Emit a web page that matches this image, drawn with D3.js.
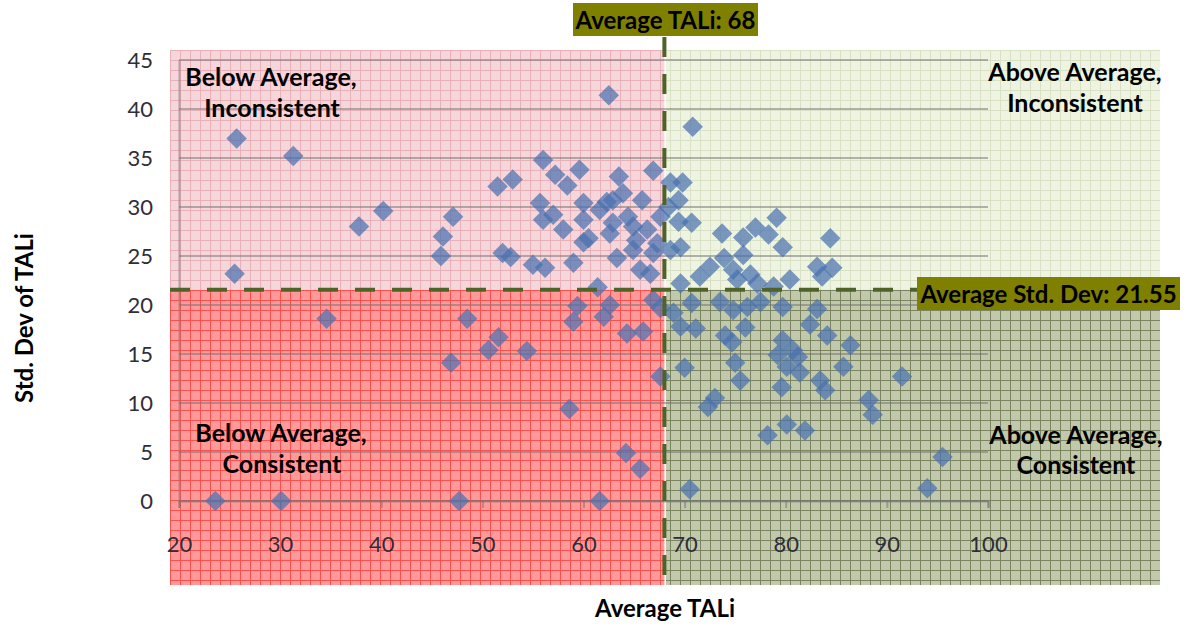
<!DOCTYPE html>
<html>
<head>
<meta charset="utf-8">
<script src="https://cdn.jsdelivr.net/npm/d3@7"></script>
<style>
  body { margin: 0; background: #fff; }
  text { font-family: Lato, "Open Sans", sans-serif; }
</style>
</head>
<body>
<svg id="chart" width="1189" height="626"></svg>
<script>
// averages used for the quadrant split
const avgTali = 68;
const avgStd = 21.55;

const xTicks = [20, 30, 40, 50, 60, 70, 80, 90, 100];
const yTicks = [0, 5, 10, 15, 20, 25, 30, 35, 40, 45];

// [Average TALi, Std. Dev of TALi]
const belowInconsistent = [
  [25.7, 37.0], [31.3, 35.2], [25.5, 23.2], [37.8, 28.0], [40.2, 29.6],
  [56.0, 34.8], [57.2, 33.3], [58.4, 32.2], [59.6, 33.8], [51.5, 32.1],
  [53.0, 32.8], [63.5, 33.1], [66.9, 33.7], [47.1, 29.0], [46.1, 27.0],
  [45.9, 25.0], [52.0, 25.3], [52.8, 24.9], [55.0, 24.1], [56.2, 23.8],
  [59.0, 24.3], [55.7, 30.4], [56.0, 28.7], [57.0, 29.2], [58.0, 27.7],
  [60.0, 30.4], [60.0, 28.7], [60.0, 26.4], [61.6, 29.7], [62.3, 30.5],
  [62.9, 30.7], [63.9, 31.4], [62.9, 28.4], [62.6, 27.3], [64.4, 29.0],
  [64.9, 28.0], [65.8, 30.7], [66.3, 27.7], [63.3, 24.8], [64.9, 25.6],
  [65.6, 23.6], [66.6, 23.2], [66.9, 25.3], [67.3, 26.3], [67.6, 29.0],
  [61.4, 21.8], [62.5, 41.4], [60.5, 26.8], [65.2, 26.6]
];
const belowConsistent = [
  [34.6, 18.6], [23.6, 0.0], [30.1, 0.0], [48.5, 18.6], [51.6, 16.7],
  [50.6, 15.4], [54.4, 15.3], [46.9, 14.1], [59.4, 19.9], [59.0, 18.3],
  [62.6, 20.0], [62.0, 18.8], [64.3, 17.1], [65.9, 17.3], [66.9, 20.5],
  [67.6, 19.7], [67.6, 12.7], [58.6, 9.4], [64.2, 4.9], [65.6, 3.3],
  [47.7, 0.0], [61.6, 0.0]
];
const aboveInconsistent = [
  [70.8, 38.2], [69.8, 32.5], [68.6, 32.5], [69.4, 30.7], [68.4, 30.0],
  [70.7, 28.4], [69.4, 28.5], [69.6, 25.9], [68.6, 25.6], [73.7, 27.3],
  [75.8, 26.9], [77.0, 27.9], [78.3, 27.2], [79.1, 28.9], [79.7, 25.9],
  [84.4, 26.8], [73.9, 24.8], [75.8, 25.1], [72.5, 23.9], [74.8, 23.6],
  [76.5, 23.1], [83.1, 23.9], [84.6, 23.8], [83.6, 22.9], [80.4, 22.6],
  [78.8, 21.9], [71.5, 22.9], [69.6, 22.2], [77.2, 22.2], [75.2, 22.6]
];
const aboveConsistent = [
  [70.7, 20.2], [68.9, 19.2], [69.6, 17.8], [71.1, 17.6], [73.5, 20.3],
  [74.8, 19.5], [76.2, 19.8], [77.5, 20.3], [76.0, 17.7], [74.0, 16.9],
  [74.7, 16.2], [79.7, 19.8], [83.1, 19.6], [82.4, 18.0], [84.1, 16.9],
  [86.4, 15.9], [79.7, 16.4], [80.7, 15.4], [79.2, 14.9], [81.2, 14.7],
  [80.1, 13.7], [81.4, 13.1], [75.0, 14.1], [75.5, 12.3], [70.0, 13.6],
  [79.6, 11.6], [83.4, 12.3], [83.9, 11.3], [85.7, 13.7], [91.5, 12.7],
  [73.0, 10.5], [72.3, 9.6], [88.2, 10.3], [88.6, 8.8], [78.2, 6.7],
  [80.1, 7.8], [81.9, 7.2], [95.5, 4.5], [94.0, 1.3], [70.5, 1.2]
];

const points = [].concat(belowInconsistent, belowConsistent, aboveInconsistent, aboveConsistent);

const svg = d3.select("#chart");

const x = d3.scaleLinear().domain([20, 100]).range([179, 988]);
const y = d3.scaleLinear().domain([0, 45]).range([501, 60]);

// quadrant background extents (beyond the plot area)
const bgLeft = 170, bgRight = 1160, bgTop = 50, bgBottom = 585;
const splitX = x(avgTali), splitY = y(avgStd);

// grid-paper fills
const defs = svg.append("defs");
function gridPattern(id, base, line) {
  const p = defs.append("pattern")
    .attr("id", id)
    .attr("patternUnits", "userSpaceOnUse")
    .attr("x", bgLeft).attr("y", bgTop)
    .attr("width", 10).attr("height", 10);
  p.append("rect").attr("width", 10).attr("height", 10).attr("fill", base);
  p.append("path").attr("d", "M0,0.5H10M0.5,0V10")
    .attr("stroke", line).attr("stroke-width", 1).attr("fill", "none");
}
gridPattern("pTL", "#f5d6db", "#eab0b8");
gridPattern("pBL", "#ff9a9a", "#ff5050");
gridPattern("pTR", "#eff3e2", "#d8e1c3");
gridPattern("pBR", "#c2c8ab", "#7a8560");

const quads = [
  { x0: bgLeft, x1: splitX, y0: bgTop, y1: splitY, fill: "url(#pTL)" },
  { x0: bgLeft, x1: splitX, y0: splitY, y1: bgBottom, fill: "url(#pBL)" },
  { x0: splitX + 1.5, x1: bgRight, y0: bgTop, y1: splitY, fill: "url(#pTR)" },
  { x0: splitX + 1.5, x1: bgRight, y0: splitY, y1: bgBottom, fill: "url(#pBR)" }
];
svg.append("g").selectAll("rect")
  .data(quads)
  .enter().append("rect")
  .attr("x", d => d.x0)
  .attr("y", d => d.y0)
  .attr("width", d => d.x1 - d.x0)
  .attr("height", d => d.y1 - d.y0)
  .attr("fill", d => d.fill);

// horizontal gridlines
svg.append("g").selectAll("line")
  .data(yTicks)
  .enter().append("line")
  .attr("x1", x(20)).attr("x2", x(100))
  .attr("y1", d => y(d)).attr("y2", d => y(d))
  .attr("stroke", "#6f6f6f").attr("stroke-opacity", 0.5).attr("stroke-width", 2);

// y axis
const yAxis = svg.append("g")
  .attr("transform", `translate(${x(20)},0)`)
  .call(d3.axisLeft(y).tickValues(yTicks).tickSize(0).tickPadding(26));
yAxis.select(".domain").attr("stroke", "#6f6f6f").attr("stroke-opacity", 0.5).attr("stroke-width", 2);
yAxis.selectAll("text").attr("font-size", 22).attr("fill", "#2e2e3a")
  .style("font-family", "Lato, sans-serif");

// x axis
const xAxis = svg.append("g")
  .attr("transform", `translate(0,${y(0)})`)
  .call(d3.axisBottom(x).tickValues(xTicks).tickSize(7).tickPadding(28));
xAxis.select(".domain").attr("stroke", "#6f6f6f").attr("stroke-opacity", 0.5).attr("stroke-width", 2);
xAxis.selectAll(".tick line").attr("stroke", "#6f6f6f").attr("stroke-opacity", 0.5).attr("stroke-width", 2);
xAxis.selectAll("text").attr("font-size", 22).attr("fill", "#2e2e3a")
  .style("font-family", "Lato, sans-serif");

// points
svg.append("g").selectAll("path")
  .data(points)
  .enter().append("path")
  .attr("d", d3.symbol(d3.symbolSquare, 210))
  .attr("transform", d => `translate(${x(d[0])},${y(d[1])}) rotate(45)`)
  .attr("fill", "#4a72b0")
  .attr("fill-opacity", 0.72);

// average lines
const dashColor = "#4f6228";
svg.append("line")
  .attr("x1", splitX).attr("x2", splitX)
  .attr("y1", 37).attr("y2", bgBottom)
  .attr("stroke", dashColor).attr("stroke-width", 4)
  .attr("stroke-dasharray", "20,17");
svg.append("line")
  .attr("x1", bgLeft).attr("x2", 917)
  .attr("y1", splitY).attr("y2", splitY)
  .attr("stroke", dashColor).attr("stroke-width", 4)
  .attr("stroke-dasharray", "20,17");

// average labels
function tag(txt, x0, y0, w, h) {
  svg.append("rect").attr("x", x0).attr("y", y0).attr("width", w).attr("height", h)
    .attr("fill", "#808000");
  svg.append("text").attr("x", x0 + w / 2).attr("y", y0 + h / 2 + 9)
    .attr("text-anchor", "middle").attr("font-size", 24).attr("font-weight", "bold")
    .attr("fill", "#000").text(txt);
}
tag("Average TALi: " + avgTali, 573, 3, 185, 33);
tag("Average Std. Dev: " + avgStd, 917, 277, 263, 33);

// quadrant captions
const captions = [
  ["Below Average,", 271, 86], ["Inconsistent", 272, 117],
  ["Below Average,", 281, 442], ["Consistent", 282, 473],
  ["Above Average,", 1075, 81], ["Inconsistent", 1075, 112],
  ["Above Average,", 1076, 444], ["Consistent", 1076, 474]
];
svg.append("g").selectAll("text")
  .data(captions)
  .enter().append("text")
  .attr("x", d => d[1]).attr("y", d => d[2])
  .attr("text-anchor", "middle")
  .attr("font-size", 25).attr("font-weight", "bold").attr("fill", "#000")
  .text(d => d[0]);

// axis titles
svg.append("text")
  .attr("x", 665).attr("y", 617)
  .attr("text-anchor", "middle")
  .attr("font-size", 24).attr("font-weight", "bold").attr("fill", "#000")
  .text("Average TALi");
svg.append("text")
  .attr("transform", "translate(33,318) rotate(-90)")
  .attr("text-anchor", "middle")
  .attr("font-size", 24).attr("font-weight", "bold").attr("fill", "#000")
  .text("Std. Dev of TALi");
</script>
</body>
</html>
